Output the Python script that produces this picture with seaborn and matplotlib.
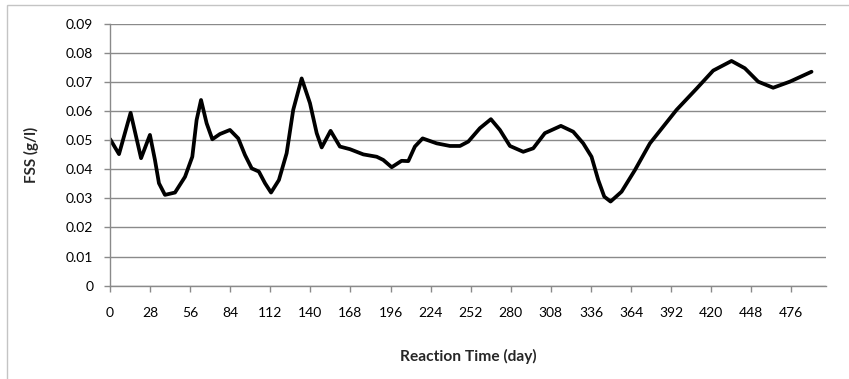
import matplotlib
matplotlib.use("Agg")
import matplotlib.pyplot as plt
from matplotlib.patches import Rectangle
import seaborn as sns
import pandas as pd

# Data
days = [0, 6.3, 14.4, 21.7, 27.9, 31.4, 34.2, 38.4, 45.4, 52.4, 57.5, 60.5,
        63.6, 67.5, 71.5, 76.8, 83.8, 89.6, 94.3, 99, 104, 108.3, 112.5,
        118, 123.4, 128, 133.9, 139.7, 144.4, 147.9, 154.1, 160.6, 167.6,
        177, 186.3, 190.9, 196.8, 203.7, 208.4, 213, 218.4, 228.2, 237.5,
        244.5, 250.3, 258.4, 266.1, 272.4, 279.4, 288.7, 295.7, 303.8, 315,
        323.6, 330.6, 336.4, 341.1, 345.3, 349.7, 357.4, 366.7, 377.2, 395.8,
        409.8, 421.4, 434.2, 443.5, 452.8, 463.3, 475, 490.1]
fss = [0.0504, 0.0452, 0.0594, 0.0438, 0.0518, 0.0432, 0.0352, 0.0312,
       0.0320, 0.0374, 0.0443, 0.0569, 0.0638, 0.0558, 0.0503, 0.0521,
       0.0535, 0.0506, 0.0449, 0.0403, 0.0392, 0.0352, 0.0320, 0.0363,
       0.0455, 0.0604, 0.0712, 0.0627, 0.0524, 0.0475, 0.0532, 0.0478,
       0.0469, 0.0451, 0.0443, 0.0432, 0.0407, 0.0429, 0.0428, 0.0478,
       0.0506, 0.0489, 0.0480, 0.0480, 0.0495, 0.0541, 0.0572, 0.0535,
       0.0480, 0.0460, 0.0472, 0.0524, 0.0549, 0.0529, 0.0489, 0.0443,
       0.0363, 0.0306, 0.0289, 0.0323, 0.0397, 0.0489, 0.0604, 0.0677,
       0.0739, 0.0772, 0.0747, 0.0701, 0.0680, 0.0701, 0.0735]
xticks = list(range(0, 477, 28))
yticks = [0, 0.01, 0.02, 0.03, 0.04, 0.05, 0.06, 0.07, 0.08, 0.09]
ytick_labels = ["0", "0.01", "0.02", "0.03", "0.04", "0.05", "0.06", "0.07", "0.08", "0.09"]

df = pd.DataFrame({"Reaction Time (day)": days, "FSS (g/l)": fss})

sns.set_style("white")
plt.rcParams["font.family"] = ["Lato", "DejaVu Sans"]

W, H = 849, 379
fig = plt.figure(figsize=(W / 100, H / 100), dpi=100)
ax = fig.add_axes([110 / W, 1 - 285.7 / H, (825.7 - 110) / W, (285.7 - 23.7) / H])

sns.lineplot(data=df, x="Reaction Time (day)", y="FSS (g/l)", color="black",
             lw=2.7, ax=ax, sort=False)
for ln in ax.lines:
    ln.set_solid_joinstyle("round")
    ln.set_solid_capstyle("round")

ax.set_xlim(0, 500)
ax.set_ylim(0, 0.09)
ax.set_xticks(xticks)
ax.set_xticklabels([str(t) for t in xticks])
ax.set_yticks(yticks)
ax.set_yticklabels(ytick_labels)

grid_c = "#8a8a8a"
ax.yaxis.grid(True, color=grid_c, lw=1)
ax.xaxis.grid(False)
ax.set_axisbelow(True)
for s in ["top", "right"]:
    ax.spines[s].set_visible(False)
for s in ["left", "bottom"]:
    ax.spines[s].set_visible(True)
    ax.spines[s].set_color(grid_c)
    ax.spines[s].set_linewidth(1)

ax.tick_params(axis="x", direction="out", length=4, width=1, color=grid_c,
               pad=11, labelsize=10, labelcolor="black", bottom=True)
ax.tick_params(axis="y", direction="out", length=4, width=1, color=grid_c,
               pad=8, labelsize=10, labelcolor="black", left=True)

ax.set_xlabel("Reaction Time (day)", fontsize=11.2, fontweight="bold")
ax.set_ylabel("FSS (g/l)", fontsize=11, fontweight="bold")
ax.xaxis.set_label_coords(0.5, (285.7 - 349) / 262)
ax.yaxis.set_label_coords((39 - 110) / 715.7, 0.5)

fig.patches.append(Rectangle((7 / W, -0.05), 1.0, 1 - 5 / H + 0.05,
                             transform=fig.transFigure, fill=False,
                             ec="#c4c4c4", lw=1))

fig.savefig("out.png", dpi=100)
